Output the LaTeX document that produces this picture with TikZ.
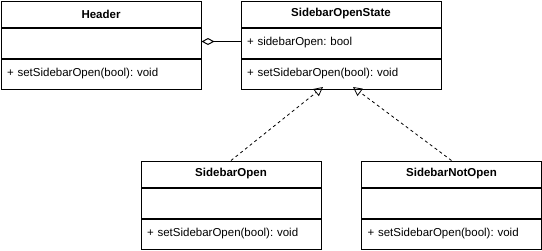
\documentclass[tikz,border=0pt]{standalone}
\usepackage{fontspec}
\setmainfont{Liberation Sans}
\usetikzlibrary{arrows.meta}
\frenchspacing

\tikzset{
  compart/.style={draw, line width=1pt, anchor=north west, inner sep=0pt,
    minimum width=200pt, text width=188pt, align=left, font=\fontsize{11.5}{13}\selectfont},
  umltitle/.style={compart, minimum height=26pt, align=center, font=\fontsize{11.5}{13}\selectfont\bfseries},
  umlattr/.style={compart, minimum height=30pt},
  umlop/.style={compart, minimum height=30pt},
  realize/.style={line width=0.8pt, dash pattern=on 3pt off 3pt,
    -{Triangle[open, length=9pt, width=9pt]}},
  aggregate/.style={line width=1pt, -{Diamond[open, length=13pt, width=7pt]}}
}

\begin{document}
\begin{tikzpicture}[x=1pt, y=-1pt]
  \useasboundingbox (0,0) rectangle (542,250);

  % Header class
  \node[umltitle] (hd-t) at (0.5,0.5) {Header};
  \node[umlattr]  (hd-a) at (hd-t.south west) {};
  \node[umlop]    (hd-o) at (hd-a.south west) {+ setSidebarOpen(bool): void};

  % SidebarOpenState class
  \node[umltitle] (st-t) at (240.5,0.5) {SidebarOpenState};
  \node[umlattr]  (st-a) at (st-t.south west) {+ sidebarOpen: bool};
  \node[umlop]    (st-o) at (st-a.south west) {+ setSidebarOpen(bool): void};

  % SidebarOpen class
  \node[umltitle, minimum width=180pt, text width=168pt] (so-t) at (140.5,160.5) {SidebarOpen};
  \node[umlattr,  minimum width=180pt, text width=168pt] (so-a) at (so-t.south west) {};
  \node[umlop,    minimum width=180pt, text width=168pt] (so-o) at (so-a.south west) {+ setSidebarOpen(bool): void};

  % SidebarNotOpen class
  \node[umltitle, minimum width=180pt, text width=168pt] (sn-t) at (361,160.5) {SidebarNotOpen};
  \node[umlattr,  minimum width=180pt, text width=168pt] (sn-a) at (sn-t.south west) {};
  \node[umlop,    minimum width=180pt, text width=168pt] (sn-o) at (sn-a.south west) {+ setSidebarOpen(bool): void};

  % end points of the realization arrows on the state's lower edge
  \coordinate (tipA) at (323,87);
  \coordinate (tipB) at (353,87);

  % aggregation: Header holds a SidebarOpenState
  \draw[aggregate] ([yshift=1.5pt]st-a.west) -- ([yshift=1.5pt]hd-a.east);

  % realizations
  \draw[realize] (so-t.north) -- (tipA);
  \draw[realize] (sn-t.north) -- (tipB);
\end{tikzpicture}
\end{document}
